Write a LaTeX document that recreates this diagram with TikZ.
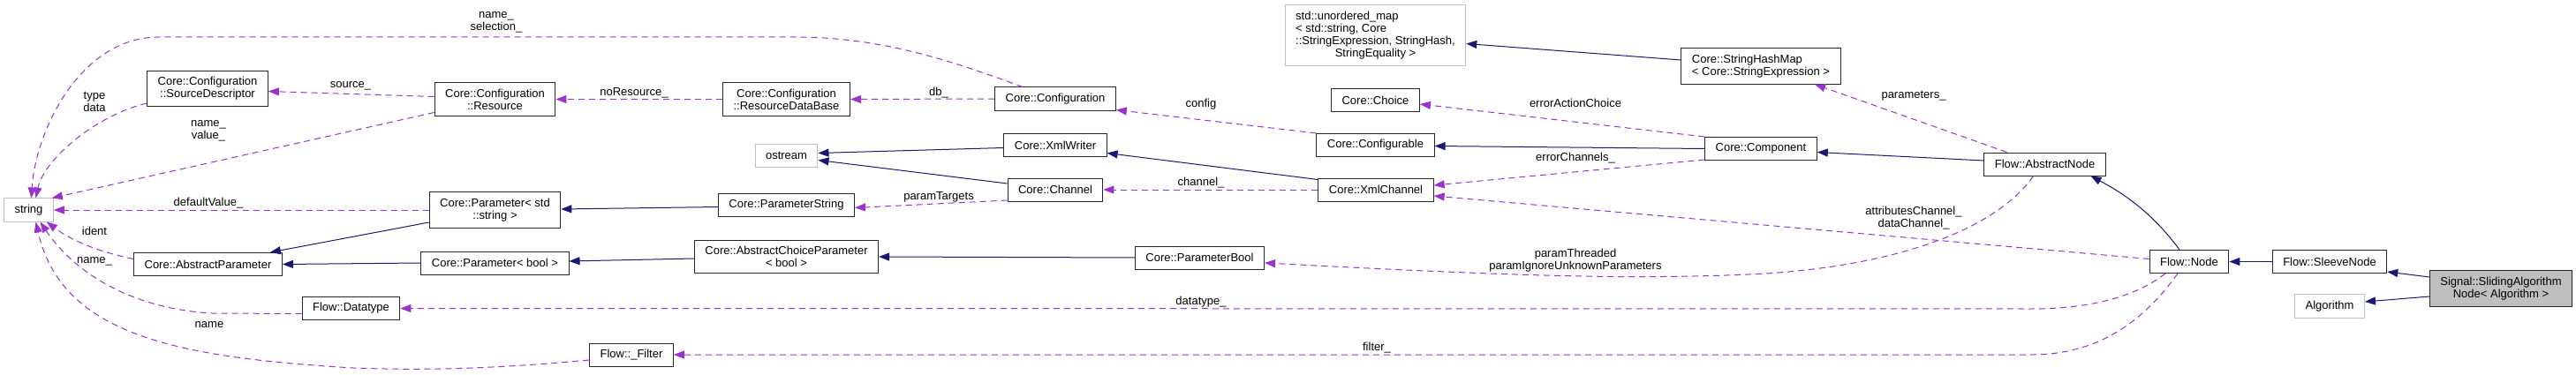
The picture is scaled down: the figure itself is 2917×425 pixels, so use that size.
\documentclass[tikz,border=0pt]{standalone}
\usepackage{fontspec}
\setmainfont{Liberation Sans}
\usetikzlibrary{arrows.meta,calc}
\definecolor{inhblue}{HTML}{191970}
\definecolor{usepurple}{HTML}{9A32CD}
\definecolor{extgray}{HTML}{BFBFBF}

\begin{document}
\begin{tikzpicture}[
    x=1pt, y=-1pt,
    every node/.style={font=\fontsize{13}{14}\selectfont},
    cls/.style={draw=black!85, fill=white, line width=1pt, inner xsep=12pt, inner ysep=7pt, minimum height=26pt, align=center},
    ext/.style={cls, draw=extgray},
    focus/.style={cls, fill=extgray},
    lbl/.style={inner sep=0pt, align=center},
    inh/.style={draw=inhblue, line width=1pt, -{Triangle[length=12pt, width=9pt]}},
    use/.style={draw=usepurple, line width=1pt, dash pattern=on 7pt off 5pt, -{Triangle[length=12pt, width=9pt]}},
]
    \useasboundingbox[fill=white] (0,0) rectangle (2917,425);

    % classes
    \node[ext] (str) at (32.5,238) {string};
    \node[cls] (srcDesc) at (235,100.5) {Core::Configuration\\::SourceDescriptor};
    \node[cls] (res) at (560.5,112.5) {Core::Configuration\\::Resource};
    \node[cls] (resDb) at (890.5,112.5) {Core::Configuration\\::ResourceDataBase};
    \node[cls] (conf) at (1195,112) {Core::Configuration};
    \node[ext, inner ysep=6pt, minimum height=69pt] (umap) at (1557.5,40.5) {\begin{tabular}{@{}l@{}}std::unordered\_map\\< std::string, Core\\::StringExpression, StringHash,\\\multicolumn{1}{@{}c@{}}{StringEquality >}\end{tabular}};
    \node[cls] (choice) at (1557.5,114) {Core::Choice};
    \node[cls, align=left] (shm) at (1994,75) {Core::StringHashMap\\< Core::StringExpression >};
    \node[cls] (comp) at (1994,168.5) {Core::Component};
    \node[cls] (absNode) at (2315.5,186) {Flow::AbstractNode};
    \node[ext] (ostr) at (890.5,176.5) {ostream};
    \node[cls] (xmlW) at (1195,164.5) {Core::XmlWriter};
    \node[cls] (confble) at (1557.5,164.5) {Core::Configurable};
    \node[cls] (chan) at (1195,215) {Core::Channel};
    \node[cls] (xmlCh) at (1558,215) {Core::XmlChannel};
    \node[cls] (parS) at (560.5,238) {Core::Parameter< std\\::string >};
    \node[cls] (parStr) at (890.5,232.5) {Core::ParameterString};
    \node[cls] (parB) at (560.5,298) {Core::Parameter< bool >};
    \node[cls] (acp) at (890.5,291) {Core::AbstractChoiceParameter\\< bool >};
    \node[cls] (parBool) at (1358.5,292) {Core::ParameterBool};
    \node[cls] (absPar) at (235.5,299.5) {Core::AbstractParameter};
    \node[cls] (dtype) at (397.5,349.5) {Flow::Datatype};
    \node[cls] (filt) at (715,402) {Flow::\_Filter};
    \node[cls] (fnode) at (2479,296.5) {Flow::Node};
    \node[cls] (sleeve) at (2638,296.5) {Flow::SleeveNode};
    \node[ext] (algo) at (2638,347) {Algorithm};
    \node[focus] (slide) at (2832,327) {Signal::SlidingAlgorithm\\Node< Algorithm >};

    % inheritance
    \draw[inh] ($(slide.west)+(0,-13)$) -- ($(sleeve.south east)+(0,-2)$);
    \draw[inh] ($(slide.west)+(0,9)$) -- ($(algo.east)+(0,-5)$);
    \draw[inh] ($(fnode.north)+(-11,0)$) .. controls (2440,245) and (2410,222) .. ($(absNode.south)+(52,0)$);
    \draw[inh] ($(absNode.west)+(0,-4)$) -- ($(comp.east)+(0,4)$);
    \draw[inh] ($(shm.west)+(0,-7)$) -- ($(umap.east)+(0,9)$);
    \draw[inh] (comp.west) -- ($(confble.east)+(0,1)$);
    \draw[inh] ($(xmlCh.north west)+(0,2)$) -- ($(xmlW.east)+(0,9)$);
    \draw[inh] ($(xmlW.west)+(0,3)$) -- ($(ostr.east)+(0,-3)$);
    \draw[inh] ($(chan.west)+(0,-7)$) -- ($(ostr.east)+(0,5)$);
    \draw[inh] ($(parStr.west)+(0,2)$) -- ($(parS.east)+(0,-1)$);
    \draw[inh] ($(parS.west)+(0,14)$) -- ($(absPar.north east)+(-14,0)$);
    \draw[inh] ($(acp.west)+(0,2)$) -- ($(parB.east)+(0,-2)$);
    \foreach \a/\b in {sleeve/fnode, parB/absPar, parBool/acp} {
        \draw[inh] (\a.west) -- (\b.east);
    }

    % usage
    \draw[use] ($(absNode.north)+(-43,0)$) -- ($(shm.south)+(61,0)$);
    \draw[use] (comp.north west) -- ($(choice.east)+(0,4)$);
    \draw[use] ($(comp.south west)+(0,-1)$) -- ($(xmlCh.east)+(0,-5)$);
    \draw[use] (confble.north west) -- ($(conf.south east)+(0,-1)$);
    \draw[use] (conf.west) -- (resDb.east);
    \draw[use] ($(conf.north)+(-37,0)$) .. controls (1080,70) and (1000,42) .. (900,42) -- (180,42) .. controls (90,42) and (40,150) .. ($(str.north)+(3,0)$);
    \draw[use] (resDb.west) -- (res.east);
    \draw[use] ($(res.west)+(0,-3)$) -- ($(srcDesc.east)+(0,3)$);
    \draw[use] ($(res.west)+(0,15)$) -- ($(str.north east)+(-2,0)$);
    \draw[use] ($(srcDesc.south west)+(0,-4)$) .. controls (110,130) and (50,180) .. ($(str.north)+(8,0)$);
    \draw[use] (xmlCh.west) -- (chan.east);
    \draw[use] ($(chan.west)+(0,12)$) -- ($(parStr.east)+(0,3)$);
    \draw[use] (parS.west) -- (str.east);
    \draw[use] ($(absNode.south)+(-13,0)$) .. controls (2260,260) and (2150,300) .. (2000,310) .. controls (1850,318) and (1700,312) .. ($(parBool.east)+(0,6)$);
    \draw[use] ($(fnode.west)+(0,-3)$) -- ($(xmlCh.east)+(0,7)$);
    \draw[use] ($(fnode.south)+(-27,0)$) .. controls (2420,335) and (2370,350) .. (2300,350) -- (dtype.east);
    \draw[use] ($(fnode.south)+(-13,0)$) .. controls (2430,360) and (2380,402) .. (2300,402) -- (filt.east);
    \draw[use] ($(absPar.west)+(0,-6)$) .. controls (110,285) and (80,272) .. ($(str.south east)+(-8,0)$);
    \draw[use] ($(dtype.west)+(0,6)$) -- (240,355) .. controls (150,350) and (85,310) .. ($(str.south)+(13,0)$);
    \draw[use] ($(filt.west)+(0,6)$) .. controls (560,418) and (480,420) .. (400,417) .. controls (200,405) and (70,380) .. ($(str.south)+(8,0)$);

    % labels
    \node[lbl] (lNameSel) at (562,25.5) {name\_\\selection\_};
    \node[lbl] (lTypeData) at (107,115.5) {type\\data};
    \node[lbl] (lNameVal) at (236,148) {name\_\\value\_};
    \node[lbl] (lDefVal) at (236,230) {defaultValue\_};
    \node[lbl] (lIdent) at (107,262) {ident};
    \node[lbl] (lNameU) at (107,296) {name\_};
    \node[lbl] (lName) at (237,368) {name};
    \node[lbl] (lSource) at (397,97) {source\_};
    \node[lbl] (lNoRes) at (718,105) {noResource\_};
    \node[lbl] (lDb) at (1063,105) {db\_};
    \node[lbl] (lParamT) at (1063,223) {paramTargets};
    \node[lbl] (lConfig) at (1360,118) {config};
    \node[lbl] (lChannel) at (1360,207) {channel\_};
    \node[lbl] (lDatatype) at (1360,342) {datatype\_};
    \node[lbl] (lFilter) at (1559,394) {filter\_};
    \node[lbl] (lErrAct) at (1784,117) {errorActionChoice};
    \node[lbl] (lErrCh) at (1784,179) {errorChannels\_};
    \node[lbl] (lParThr) at (1784,295) {paramThreaded\\paramIgnoreUnknownParameters};
    \node[lbl] (lParams) at (2167,109) {parameters\_};
    \node[lbl] (lAttr) at (2167,247) {attributesChannel\_\\dataChannel\_};
\end{tikzpicture}
\end{document}
